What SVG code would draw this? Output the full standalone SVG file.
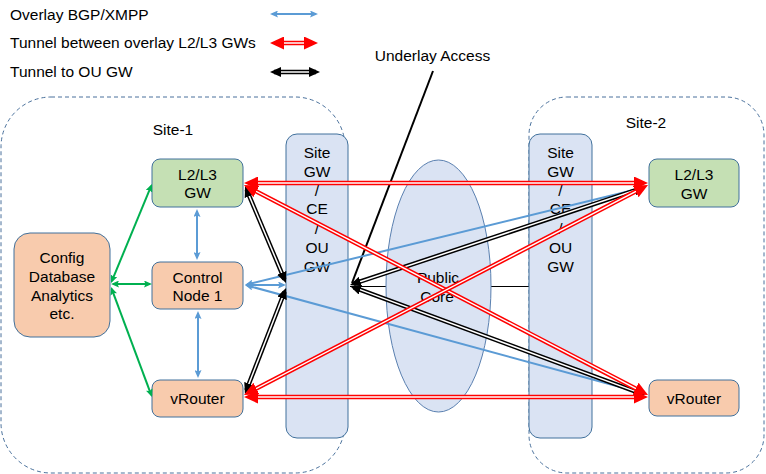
<svg xmlns="http://www.w3.org/2000/svg" width="766" height="474" viewBox="0 0 766 474">
<style>
text{font-family:"Liberation Sans",Arial,sans-serif;font-size:15.5px;fill:#000}
.c{text-anchor:middle}
.site{fill:none;stroke:#4a719c;stroke-width:1;stroke-dasharray:4 3}
.gw{fill:#dae3f3;stroke:#41719c;stroke-width:1}
.grn{fill:#c5e0b4;stroke:#41719c;stroke-width:1}
.org{fill:#f8cbad;stroke:#41719c;stroke-width:1}
.blue{stroke:#5b9bd5;stroke-width:2;fill:none;marker-start:url(#mBlue);marker-end:url(#mBlue)}
.green{stroke:#00b050;stroke-width:2;fill:none;marker-start:url(#mGreen);marker-end:url(#mGreen)}
.ro{stroke:#ff0000;stroke-width:4.5;fill:none}
.ko{stroke:#000;stroke-width:4.5;fill:none}
.ri{stroke:#fff;stroke-width:1.5;fill:none;marker-start:url(#mRed);marker-end:url(#mRed)}
.ki{stroke:#fff;stroke-width:1.5;fill:none;marker-start:url(#mBlack);marker-end:url(#mBlack)}
.thin{stroke:#000;stroke-width:1;fill:none}
.ul{stroke:#000;stroke-width:2;fill:none}
</style>
<defs>
<marker id="mRed" markerUnits="userSpaceOnUse" viewBox="0 0 14 13" markerWidth="14" markerHeight="13" refX="8" refY="6.5" orient="auto-start-reverse"><path d="M0,0 L14,6.5 L0,13 Z" fill="#ff0000"/></marker>
<marker id="mBlack" markerUnits="userSpaceOnUse" viewBox="0 0 11 10" markerWidth="11" markerHeight="10" refX="7" refY="5" orient="auto-start-reverse"><path d="M0,0 L11,5 L0,10 Z" fill="#000"/></marker>
<marker id="mBlue" markerUnits="userSpaceOnUse" viewBox="0 0 8 7" markerWidth="8" markerHeight="7" refX="6" refY="3.5" orient="auto-start-reverse"><path d="M0,0 L8,3.5 L0,7 L1.5,3.5 Z" fill="#5b9bd5"/></marker>
<marker id="mGreen" markerUnits="userSpaceOnUse" viewBox="0 0 8 7" markerWidth="8" markerHeight="7" refX="6" refY="3.5" orient="auto-start-reverse"><path d="M0,0 L8,3.5 L0,7 L1.5,3.5 Z" fill="#00b050"/></marker>
</defs>

<g id="legend">
<text x="10" y="20.4">Overlay BGP/XMPP</text>
<text x="10" y="48.4">Tunnel between overlay L2/L3 GWs</text>
<text x="10" y="77.4">Tunnel to OU GW</text>
<line class="blue" x1="272" y1="14" x2="316" y2="14"/>
<line class="ro" x1="276" y1="43" x2="312" y2="43"/>
<line class="ri" x1="276" y1="43" x2="312" y2="43"/>
<line class="ko" x1="274" y1="72" x2="316" y2="72"/>
<line class="ki" x1="274" y1="72" x2="316" y2="72"/>
</g>

<g id="site1"><rect class="site" x="1" y="97" width="344" height="376" rx="50" ry="50"/><text class="c" x="173" y="135">Site-1</text></g>
<g id="site2"><rect class="site" x="529" y="97" width="235" height="376" rx="38" ry="38"/><text class="c" x="646" y="128.3">Site-2</text></g>

<line class="thin" x1="350" y1="286.5" x2="529" y2="286.5"/>

<g id="sitegw1"><rect class="gw" x="286" y="134" width="62" height="304" rx="11" ry="11"/>
<text class="c" x="317" y="157.7">Site</text><text class="c" x="317" y="176.7">GW</text><text class="c" x="317" y="195.5">/</text><text class="c" x="317" y="214.3">CE</text><text class="c" x="317" y="233.5">/</text><text class="c" x="317" y="253.3">OU</text><text class="c" x="317" y="272.3">GW</text></g>
<g id="sitegw2"><rect class="gw" x="529" y="134" width="63" height="304" rx="11" ry="11"/>
<text class="c" x="560.5" y="157.7">Site</text><text class="c" x="560.5" y="176.7">GW</text><text class="c" x="560.5" y="195.5">/</text><text class="c" x="560.5" y="214.3">CE</text><text class="c" x="560.5" y="233.5">/</text><text class="c" x="560.5" y="253.3">OU</text><text class="c" x="560.5" y="272.3">GW</text></g>
<g id="publiccore"><ellipse cx="438.5" cy="286" rx="52.5" ry="126" fill="#dae3f3" stroke="#5a80b0" stroke-width="1"/>
<text class="c" x="438" y="283.3">Public</text><text class="c" x="437" y="301.7">Core</text></g>

<g id="gw1"><rect class="grn" x="152" y="159" width="91" height="48" rx="8" ry="8"/><text class="c" x="197.5" y="180">L2/L3</text><text class="c" x="197.5" y="198">GW</text></g>
<g id="ctrl"><rect class="org" x="152" y="262" width="91" height="47" rx="8" ry="8"/><text class="c" x="197.5" y="282.7">Control</text><text class="c" x="197.5" y="300.7">Node 1</text></g>
<g id="vr1"><rect class="org" x="152" y="380" width="91" height="37" rx="8" ry="8"/><text class="c" x="197.5" y="403.5">vRouter</text></g>
<g id="config"><rect class="org" x="14" y="233" width="96" height="104" rx="16" ry="16"/><text class="c" x="62" y="263.3">Config</text><text class="c" x="62" y="281.7">Database</text><text class="c" x="62" y="300.7">Analytics</text><text class="c" x="62" y="319.3">etc.</text></g>
<g id="gw2"><rect class="grn" x="649" y="159" width="90" height="48" rx="8" ry="8"/><text class="c" x="694" y="180">L2/L3</text><text class="c" x="694" y="198.5">GW</text></g>
<g id="vr2"><rect class="org" x="649" y="380" width="90" height="36" rx="8" ry="8"/><text class="c" x="694" y="404">vRouter</text></g>

<g id="underlay"><text class="c" x="432.5" y="60.7">Underlay Access</text></g>

<g id="connectors">
<line class="ul" x1="433" y1="71" x2="352" y2="283"/>
<line class="green" x1="111.8" y1="281.2" x2="151.2" y2="185.8"/>
<line class="green" x1="113" y1="284" x2="150" y2="284"/>
<line class="green" x1="111.7" y1="288.9" x2="151.3" y2="395.1"/>
<line class="blue" x1="197" y1="211" x2="197" y2="258"/>
<line class="blue" x1="198" y1="313" x2="198" y2="376"/>
<line class="blue" x1="247" y1="285" x2="284" y2="285"/>
<line class="blue" x1="247" y1="284.5" x2="644" y2="187.5"/>
<line class="blue" x1="247" y1="285.5" x2="644" y2="393.5"/>
<line class="ko" x1="246.6" y1="189.7" x2="284.4" y2="279.3"/><line class="ki" x1="246.6" y1="189.7" x2="284.4" y2="279.3"/>
<line class="ko" x1="246.4" y1="390.3" x2="284.6" y2="291.7"/><line class="ki" x1="246.4" y1="390.3" x2="284.6" y2="291.7"/>
<line class="ko" x1="353.8" y1="283.7" x2="641.2" y2="188.3"/><line class="ki" x1="353.8" y1="283.7" x2="641.2" y2="188.3"/>
<line class="ko" x1="353.8" y1="287.4" x2="641.2" y2="393.6"/><line class="ki" x1="353.8" y1="287.4" x2="641.2" y2="393.6"/>
<line class="ro" x1="250" y1="183" x2="642" y2="183"/><line class="ri" x1="250" y1="183" x2="642" y2="183"/>
<line class="ro" x1="250" y1="397" x2="642" y2="397"/><line class="ri" x1="250" y1="397" x2="642" y2="397"/>
<line class="ro" x1="249.3" y1="187.8" x2="642.7" y2="392.2"/><line class="ri" x1="249.3" y1="187.8" x2="642.7" y2="392.2"/>
<line class="ro" x1="249.3" y1="392.2" x2="642.7" y2="187.8"/><line class="ri" x1="249.3" y1="392.2" x2="642.7" y2="187.8"/>
</g>
</svg>
